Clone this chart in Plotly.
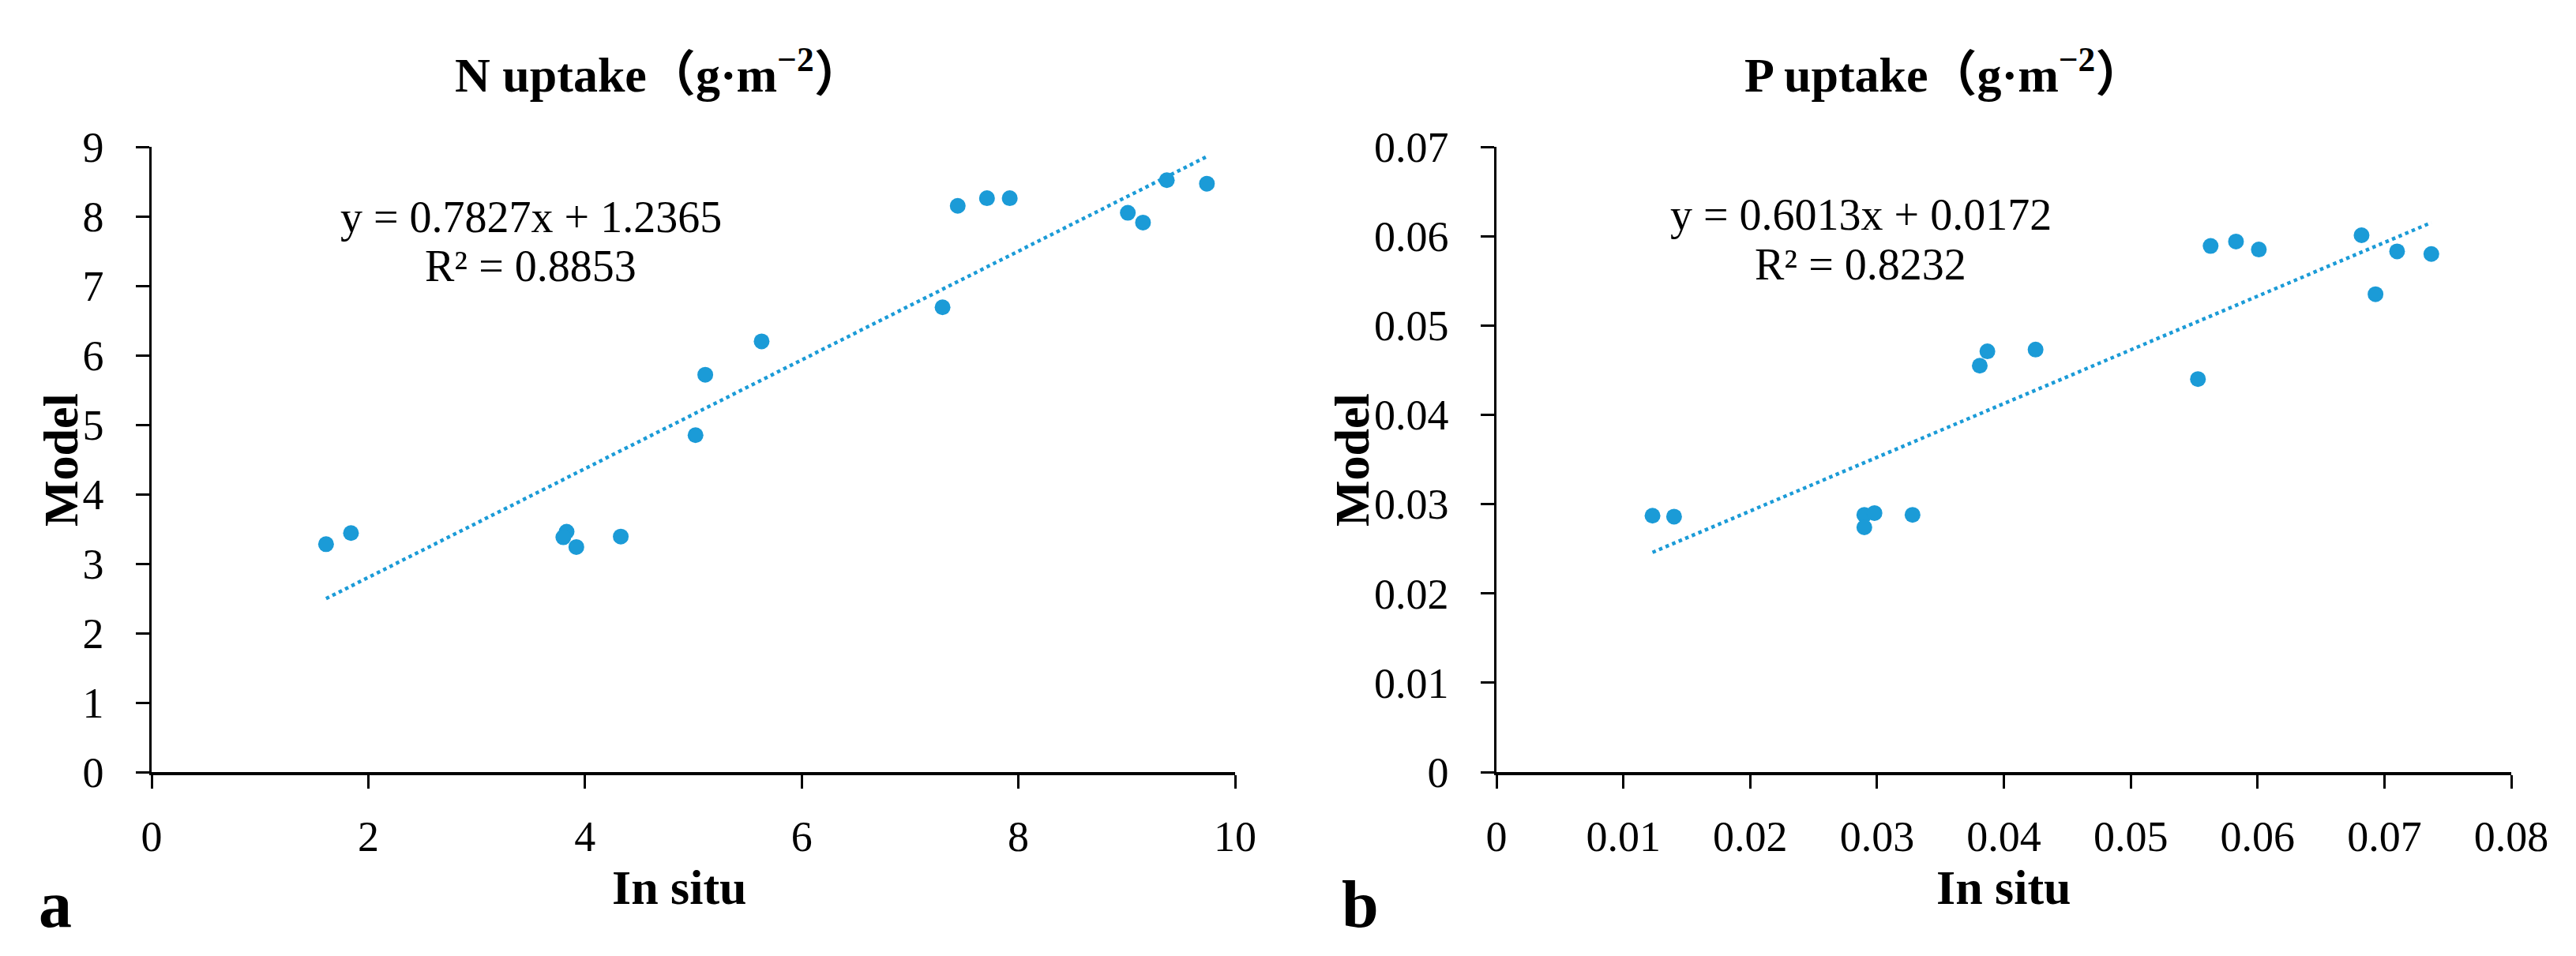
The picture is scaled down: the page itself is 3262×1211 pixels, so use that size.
import plotly.graph_objects as go

# panel a: N uptake (g m-2)
n_in_situ = [1.61, 1.84, 3.83, 3.80, 3.92, 4.33, 5.02, 5.11, 5.63, 7.30,
             7.44, 7.71, 7.92, 9.01, 9.15, 9.37, 9.74]
n_model = [3.28, 3.44, 3.46, 3.38, 3.24, 3.39, 4.85, 5.72, 6.20, 6.69,
           8.15, 8.26, 8.26, 8.05, 7.91, 8.52, 8.47]
n_slope, n_icept, n_r2 = 0.7827, 1.2365, 0.8853

# panel b: P uptake (g m-2)
p_in_situ = [0.0123, 0.0140, 0.0290, 0.0298, 0.0290, 0.0328, 0.0381, 0.0387,
             0.0425, 0.0553, 0.0563, 0.0583, 0.0601, 0.0682, 0.0693, 0.0710, 0.0737]
p_model = [0.0287, 0.0286, 0.0288, 0.0290, 0.0274, 0.0288, 0.0455, 0.0471,
           0.0473, 0.0440, 0.0589, 0.0594, 0.0585, 0.0601, 0.0535, 0.0583, 0.0580]
p_slope, p_icept, p_r2 = 0.6013, 0.0172, 0.8232

W, H = 3262, 1211
BLUE = "#1b9bd7"
SERIF = "Liberation Serif, Times New Roman, serif"
TITLE_FONT = "Liberation Serif, Noto Sans CJK SC, serif"


def px(x):
    return x / W


def py(y):
    return 1 - y / H


fig = go.Figure()

for xs, ys, slope, icept, xa, ya in [
    (n_in_situ, n_model, n_slope, n_icept, "x", "y"),
    (p_in_situ, p_model, p_slope, p_icept, "x2", "y2"),
]:
    fig.add_trace(go.Scatter(x=xs, y=ys, mode="markers", xaxis=xa, yaxis=ya,
                             marker=dict(size=20, color=BLUE), showlegend=False))
    # linear trendline over the data range
    lx = [min(xs), max(xs)]
    fig.add_trace(go.Scatter(x=lx, y=[slope * v + icept for v in lx], mode="lines",
                             xaxis=xa, yaxis=ya, showlegend=False,
                             line=dict(color=BLUE, width=4.5, dash="dot")))

tickfont = dict(family=SERIF, size=54, color="black")
common_x = dict(showgrid=False, zeroline=False, showline=True, linecolor="black", linewidth=3.5,
                ticks="outside", ticklen=17, tickwidth=2.5, tickcolor="black",
                tickfont=tickfont, ticklabelstandoff=14, automargin=False)
common_y = dict(showgrid=False, zeroline=False, showline=True, linecolor="black", linewidth=2.5,
                ticks="outside", ticklen=17, tickwidth=2.5, tickcolor="black",
                tickfont=tickfont, ticklabelstandoff=30, automargin=False)

fig.update_layout(
    width=W, height=H,
    margin=dict(l=0, r=0, t=0, b=0, pad=0),
    paper_bgcolor="white", plot_bgcolor="white",
    xaxis=dict(domain=[px(192), px(1564)], range=[0, 10], dtick=2, anchor="y", **common_x),
    yaxis=dict(domain=[py(978), py(186)], range=[0, 9], dtick=1, anchor="x", **common_y),
    xaxis2=dict(domain=[px(1895), px(3180)], range=[0, 0.08], dtick=0.01, anchor="y2",
                tickformat="~g", **common_x),
    yaxis2=dict(domain=[py(978), py(186)], range=[0, 0.07], dtick=0.01, anchor="x2",
                tickformat="~g", **common_y),
)

notes = [
    # titles
    (835, 90, "<b>N uptake（g·m<sup>−2</sup>）</b>", 62, TITLE_FONT, 0),
    (2462, 90, "<b>P uptake（g·m<sup>−2</sup>）</b>", 62, TITLE_FONT, 0),
    # axis titles
    (860, 1124, "<b>In situ</b>", 62, SERIF, 0),
    (2537, 1124, "<b>In situ</b>", 62, SERIF, 0),
    (77, 583, "<b>Model</b>", 62, SERIF, -90),
    (1712, 583, "<b>Model</b>", 62, SERIF, -90),
    # panel letters
    (70, 1145, "<b>a</b>", 84, SERIF, 0),
    (1722, 1145, "<b>b</b>", 84, SERIF, 0),
    # equations
    (672, 275, f"y = {n_slope}x + {n_icept}", 56, SERIF, 0),
    (672, 337, f"R² = {n_r2}", 56, SERIF, 0),
    (2356, 272, f"y = {p_slope}x + {p_icept}", 56, SERIF, 0),
    (2356, 335, f"R² = {p_r2}", 56, SERIF, 0),
]
for x, y, text, size, fam, ang in notes:
    fig.add_annotation(x=px(x), y=py(y), xref="paper", yref="paper", text=text,
                       showarrow=False, xanchor="center", yanchor="middle", textangle=ang,
                       font=dict(family=fam, size=size, color="black"))

# page body has a default margin; drop it so the figure sits at the window origin
fig.write_html("out.html", config={"displayModeBar": False},
               post_script="document.body.style.margin='0';")
